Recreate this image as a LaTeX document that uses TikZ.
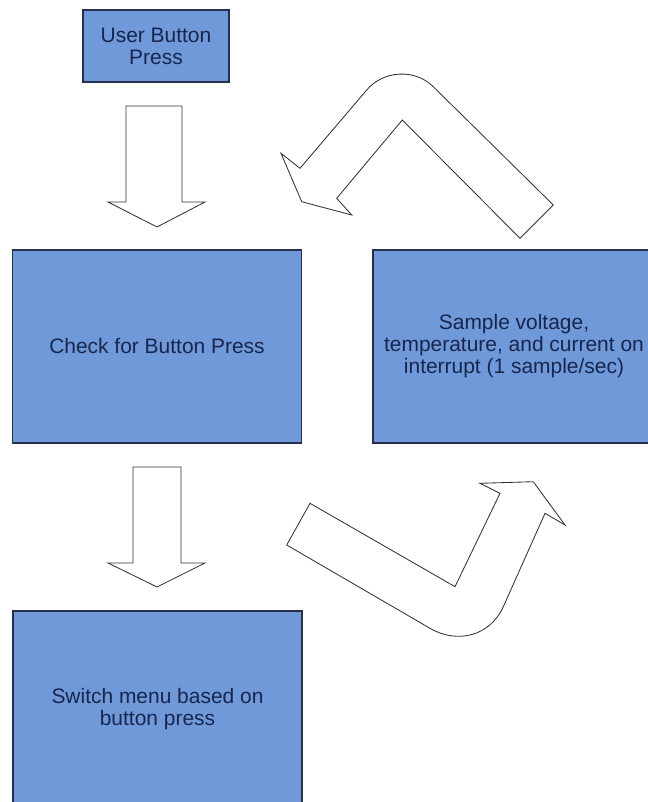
\documentclass[tikz,border=0pt]{standalone}
\usepackage{fontspec}
\setmainfont{Liberation Sans}
\usepackage{tikz}
\definecolor{boxblue}{RGB}{111,153,217}
\definecolor{boxline}{RGB}{38,48,74}
\definecolor{boxtext}{RGB}{24,38,78}

\begin{document}
\begin{tikzpicture}[x=0.025cm, y=-0.025cm,
  stepbox/.style={draw=boxline, fill=boxblue, line width=0.9pt, text=boxtext, align=center,
    inner sep=0pt, font=\fontsize{14.9}{15.6}\selectfont},
  blockarrow/.style={draw=black!80, fill=white, line width=0.6pt, line join=miter}]
\useasboundingbox (0,0) rectangle (648,802);

\node[stepbox, minimum width=3.65cm, minimum height=1.8cm](press) at (156,46) {User Button\\Press};
\node[stepbox, minimum width=7.225cm, minimum height=4.825cm](check) at (157,346.5) {Check for Button Press};
\node[stepbox, minimum width=7.05cm, minimum height=4.825cm](sample) at (514,346.5) {Sample voltage,\\temperature, and current on\\interrupt (1 sample/sec)};
\node[stepbox, minimum width=7.225cm, minimum height=4.9cm](menu) at (157.5,709) {Switch menu based on\\button press};

% straight arrows
\path[blockarrow] (126,106) -- (182,106) -- (182,202) -- (205,202) -- (157,227)
  -- (108,202) -- (126,202) -- cycle;
\path[blockarrow] (133,467) -- (181,467) -- (181,563) -- (205,563) -- (157,587)
  -- (108,563) -- (133,563) -- cycle;

% bent arrows
\path[blockarrow] (300,168.3) -- (366.7,90) .. controls (383.6,70.2) and (414.8,68.5) .. (433.3,86.7)
  -- (553.3,205) -- (520,238.3) -- (402.3,120) -- (336.7,198.3) -- (351.7,215)
  -- (301.7,201.7) -- (281,153.3) -- cycle;
\path[blockarrow] (310,503.3) -- (455,586.7) -- (500,493.3) -- (480,483.3) -- (533.3,481.7)
  -- (565,525) -- (545,513.3) -- (503.3,606.7) .. controls (490.2,635.8) and (457.7,644.4) .. (430,628.3)
  -- (286.7,545) -- cycle;
\end{tikzpicture}
\end{document}
